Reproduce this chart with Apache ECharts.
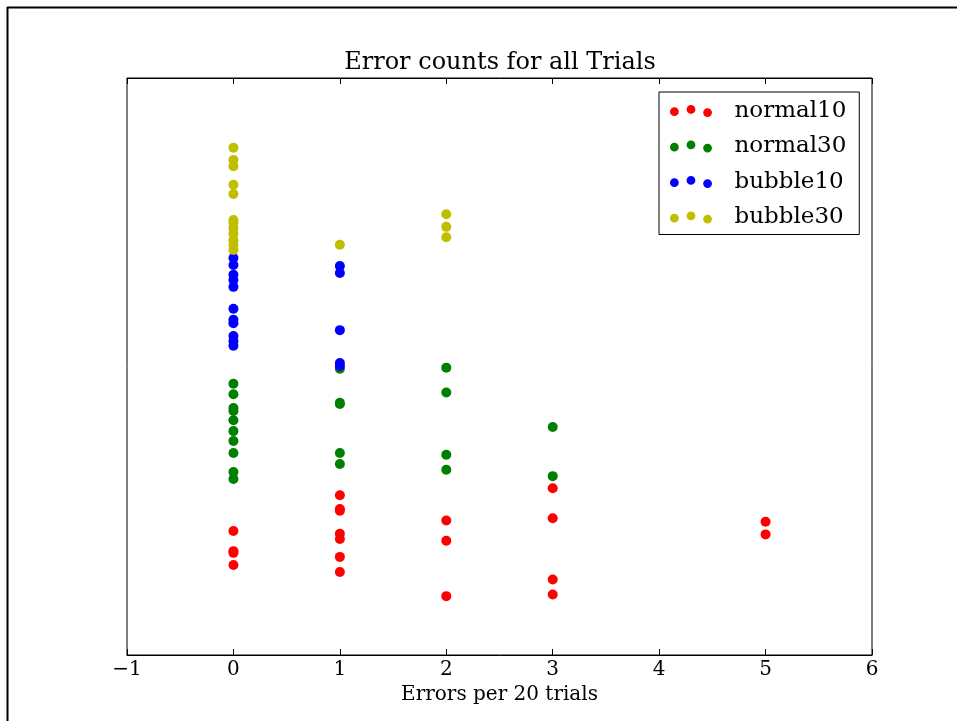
<!DOCTYPE html>
<html lang="en">
<head>
    <meta charset="UTF-8">
    <title>Error counts</title>
    <style>
        html, body { margin: 0; padding: 0; background: #fff; }
    </style>
</head>
<body>
<div id="main" style="width:957px;height:721px;"></div>
<script src="https://cdn.jsdelivr.net/npm/echarts@6/dist/echarts.min.js"></script>
<script>
    // x ticks
    var xTicks = [-1, 0, 1, 2, 3, 4, 5, 6];

    // error count (x) -> score (y)
    var normal10X = [0, 0, 0, 0, 1, 1, 1, 1, 1, 1, 1, 2, 2, 2, 3, 3, 3, 3, 5, 5];
    var normal10Y = [21.5, 18.0, 17.7, 15.6, 27.7, 25.3, 25.0, 21.0, 20.1, 17.0, 14.4, 23.3, 19.8, 10.2, 28.9, 23.7, 13.1, 10.5, 23.1, 20.9];

    var normal30X = [0, 0, 0, 0, 0, 0, 0, 0, 0, 0, 1, 1, 1, 1, 1, 2, 2, 2, 2, 3, 3];
    var normal30Y = [47.0, 45.2, 42.8, 42.3, 40.7, 38.8, 37.1, 35.0, 31.7, 30.5, 49.6, 43.7, 43.5, 35.0, 33.1, 49.8, 45.5, 34.7, 32.1, 39.5, 31.0];

    var bubble10X = [0, 0, 0, 0, 0, 0, 0, 0, 0, 0, 0, 1, 1, 1, 1, 1];
    var bubble10Y = [68.8, 67.6, 65.9, 65.0, 63.8, 60.0, 58.1, 57.5, 55.3, 54.4, 53.6, 67.4, 66.2, 56.3, 50.6, 50.1];

    var bubble30X = [0, 0, 0, 0, 0, 0, 0, 0, 0, 0, 0, 0, 1, 2, 2, 2];
    var bubble30Y = [87.9, 85.8, 84.7, 81.5, 79.9, 75.4, 74.9, 74.0, 73.0, 71.9, 71.1, 70.2, 71.1, 76.4, 74.2, 72.4];

    var names = ['normal10', 'normal30', 'bubble10', 'bubble30'];
    var colors = ['#ff0000', '#008000', '#0000ff', '#bfbf00'];

    function pairs(xs, ys) {
        return xs.map(function (x, i) { return [x, ys[i]]; });
    }
    var seriesData = [
        pairs(normal10X, normal10Y),
        pairs(normal30X, normal30Y),
        pairs(bubble10X, bubble10Y),
        pairs(bubble30X, bubble30Y)
    ];

    // three dots like matplotlib's scatter legend
    function circ(cx, cy, r) {
        return 'M' + (cx - r) + ' ' + cy + ' A' + r + ' ' + r + ' 0 1 0 ' + (cx + r) + ' ' + cy +
            ' A' + r + ' ' + r + ' 0 1 0 ' + (cx - r) + ' ' + cy + ' Z ';
    }
    var legendIcon = 'path://' + circ(4.5, 6.8, 4.5) + circ(21.5, 4.5, 4.5) + circ(38.5, 7.8, 4.5);

    var font = 'DejaVu Serif';
    var myChart = echarts.init(document.getElementById('main'));

    var option = {
        backgroundColor: '#fff',
        animation: false,
        title: {
            text: 'Error counts for all Trials',
            left: 500,
            textAlign: 'center',
            top: 51,
            padding: 0,
            textStyle: {
                fontFamily: font,
                fontSize: 24,
                fontWeight: 'normal',
                color: '#000'
            }
        },
        legend: {
            orient: 'vertical',
            left: 659,
            top: 92,
            padding: [7, 13, 5, 11],
            itemGap: 11.5,
            itemWidth: 43,
            itemHeight: 12,
            icon: legendIcon,
            borderColor: '#000',
            borderWidth: 1,
            backgroundColor: '#fff',
            data: names,
            textStyle: {
                fontFamily: font,
                fontSize: 23,
                lineHeight: 24,
                color: '#000',
                padding: [0, 0, 0, 17]
            }
        },
        grid: {
            left: 127,
            right: 85,
            top: 78,
            bottom: 66,
            show: true,
            borderColor: '#000',
            borderWidth: 1
        },
        xAxis: [
            {
                type: 'value',
                min: xTicks[0],
                max: xTicks[xTicks.length - 1],
                interval: 1,
                position: 'bottom',
                name: 'Errors per 20 trials',
                nameLocation: 'middle',
                nameGap: 29,
                nameTextStyle: {
                    fontFamily: font,
                    fontSize: 20,
                    color: '#000'
                },
                axisLine: { show: true, onZero: false, lineStyle: { color: '#000', width: 1 } },
                axisTick: { show: true, inside: true, length: 6, lineStyle: { color: '#000' } },
                axisLabel: {
                    fontFamily: font,
                    fontSize: 20,
                    color: '#000',
                    margin: 5,
                    formatter: function (v) { return String(v).replace('-', '\u2212'); }
                },
                splitLine: { show: false }
            },
            {
                type: 'value',
                min: xTicks[0],
                max: xTicks[xTicks.length - 1],
                interval: 1,
                position: 'top',
                axisLine: { show: true, onZero: false, lineStyle: { color: '#000', width: 1 } },
                axisTick: { show: true, inside: true, length: 6, lineStyle: { color: '#000' } },
                axisLabel: { show: false },
                splitLine: { show: false }
            }
        ],
        yAxis: {
            type: 'value',
            min: 0,
            max: 100,
            axisLine: { show: false, onZero: false },
            axisTick: { show: false },
            axisLabel: { show: false },
            splitLine: { show: false }
        },
        graphic: [
            {
                type: 'line',
                shape: { x1: 7, y1: 7.5, x2: 957, y2: 7.5 },
                style: { stroke: '#000', lineWidth: 2 }
            },
            {
                type: 'line',
                shape: { x1: 7.5, y1: 7, x2: 7.5, y2: 721 },
                style: { stroke: '#000', lineWidth: 2 }
            }
        ],
        series: names.map(function (n, i) {
            return {
                name: n,
                type: 'scatter',
                symbol: 'circle',
                symbolSize: 10,
                itemStyle: { color: colors[i], opacity: 1 },
                data: seriesData[i]
            };
        })
    };
    myChart.setOption(option);
</script>
</body>
</html>
